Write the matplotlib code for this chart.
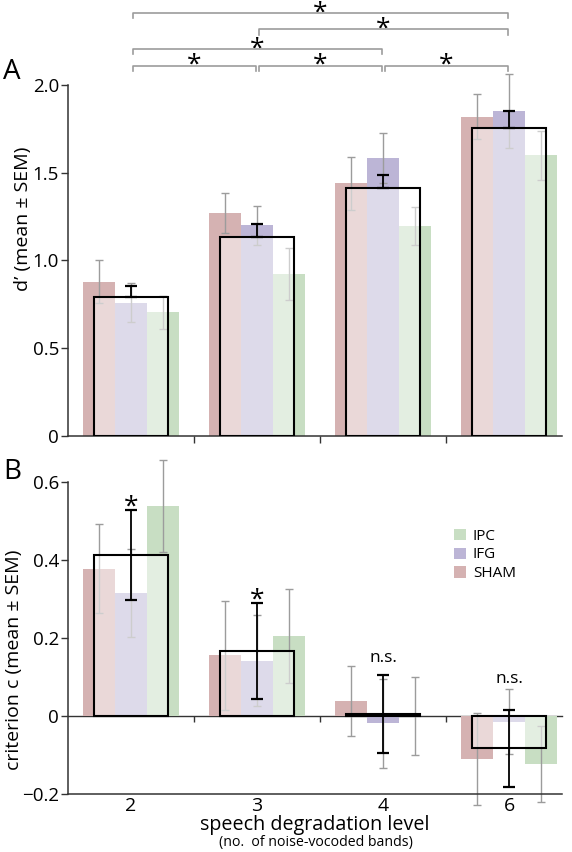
import numpy as np
import matplotlib

matplotlib.use("Agg")
import matplotlib.pyplot as plt
from matplotlib.patches import Patch
from matplotlib.textpath import TextPath
from matplotlib.font_manager import FontProperties

plt.rcParams["font.family"] = ["Open Sans", "DejaVu Sans"]

# d' (mean +- SEM) per degradation level
levels = ["2", "3", "4", "6"]
dp_sham = [0.88, 1.27, 1.44, 1.82]
dp_sham_err = [0.12, 0.115, 0.15, 0.13]
dp_ifg = [0.76, 1.20, 1.585, 1.85]
dp_ifg_err = [0.11, 0.11, 0.143, 0.21]
dp_ipc = [0.705, 0.925, 1.195, 1.60]
dp_ipc_err = [0.095, 0.148, 0.107, 0.14]
dp_mean = [0.79, 1.134, 1.41, 1.757]
dp_mean_err = [0.065, 0.074, 0.077, 0.095]

# criterion c (mean +- SEM)
c_sham = [0.378, 0.156, 0.039, -0.11]
c_sham_err = [0.114, 0.14, 0.09, 0.117]
c_ifg = [0.316, 0.142, -0.019, -0.015]
c_ifg_err = [0.113, 0.117, 0.115, 0.083]
c_ipc = [0.538, 0.205, 0.0, -0.123]
c_ipc_err = [0.118, 0.12, 0.10, 0.098]
c_mean = [0.412, 0.167, 0.006, -0.083]
c_mean_err = [0.115, 0.123, 0.10, 0.099]

# significant pairwise level differences for d' (index pairs) and bracket rows
sig_pairs = [(0, 1), (1, 2), (2, 3), (0, 2), (1, 3), (0, 3)]
sig_rows = [2.11, 2.11, 2.11, 2.205, 2.317, 2.409]
# labels over the mean criterion per level (glyph centre heights)
c_marks = ["*", "*", "n.s.", "n.s."]
c_mark_y = [0.556, 0.318, 0.149, 0.097]

COL = {"SHAM": "#d5b2b2", "IFG": "#bcb5d6", "IPC": "#c8dec3"}
GRAY = "#9c9c9c"
AX = "#333333"
FP = FontProperties(family=["Open Sans", "DejaVu Sans"])

x = np.arange(len(levels)) + 0.5
bw = 0.254
box_w = 0.59

fig = plt.figure(figsize=(5.72, 8.52), dpi=100)
axA = fig.add_axes([0.1189, 0.4883, 0.8636, 0.412])
axB = fig.add_axes([0.1189, 0.0681, 0.8636, 0.3662])


def centred(ax, xc, yc, s, fs, dy_pts=0.0):
    # put the visible glyphs of s centred on (xc, yc) plus dy_pts
    ext = TextPath((0, 0), s, size=fs, prop=FP).get_extents()
    mid = (ext.y0 + ext.y1) / 2
    ax.annotate(s, xy=(xc, yc), xytext=(0, dy_pts - mid), textcoords="offset points",
                ha="center", va="baseline", fontsize=fs, annotation_clip=False)


def draw(ax, sham, sham_e, ifg, ifg_e, ipc, ipc_e, mean, mean_e, upper_only):
    groups = [(sham, sham_e, "SHAM", -bw), (ifg, ifg_e, "IFG", 0.0), (ipc, ipc_e, "IPC", bw)]
    for vals, errs, name, off in groups:
        ax.bar(x + off, vals, width=bw, color=COL[name], zorder=1, linewidth=0)
        ax.errorbar(x + off, vals, yerr=errs, fmt="none", ecolor=GRAY,
                    elinewidth=1.0, capsize=3.2, capthick=1.0, zorder=2, clip_on=False)
    ax.bar(x, mean, width=box_w, facecolor=(1, 1, 1, 0.5), edgecolor="black",
           linewidth=1.5, zorder=3)
    if upper_only:
        yerr = [np.zeros(len(mean)), mean_e]
    else:
        yerr = mean_e
    ax.errorbar(x, mean, yerr=yerr, fmt="none", ecolor="black", elinewidth=1.3,
                capsize=4.5, capthick=1.6, zorder=4, clip_on=False)


draw(axA, dp_sham, dp_sham_err, dp_ifg, dp_ifg_err, dp_ipc, dp_ipc_err,
     dp_mean, dp_mean_err, True)
draw(axB, c_sham, c_sham_err, c_ifg, c_ifg_err, c_ipc, c_ipc_err,
     c_mean, c_mean_err, False)

for ax in (axA, axB):
    ax.set_xlim(0, 3.92)
    for s in ("top", "right"):
        ax.spines[s].set_visible(False)
    for s in ("left", "bottom"):
        ax.spines[s].set_color(AX)
        ax.spines[s].set_linewidth(1.1)
    ax.tick_params(axis="y", direction="out", length=5, width=1, color=AX,
                   labelsize=13.5, pad=1.5)

# panel A
axA.set_ylim(0, 2.0)
axA.set_yticks([0, 0.5, 1.0, 1.5, 2.0])
axA.set_yticklabels(["0", "0.5", "1.0", "1.5", "2.0"])
axA.set_xticks([1, 2, 3])
axA.set_xticklabels([])
axA.tick_params(axis="x", direction="out", length=5, width=1, color=AX)
axA.set_ylabel("d’ (mean ± SEM)", fontsize=14)
axA.yaxis.set_label_coords(-0.073, 0.62)

drop = 0.03
for (i, j), yb in zip(sig_pairs, sig_rows):
    x0, x1 = x[i] + 0.012, x[j] - 0.012
    axA.plot([x0, x0, x1, x1], [yb - drop, yb, yb, yb - drop], color=GRAY,
             lw=1.2, clip_on=False, zorder=5)
    centred(axA, (x[i] + x[j]) / 2, yb, "*", 19, dy_pts=5.6)

# panel B
axB.set_ylim(-0.2, 0.6)
axB.set_yticks([-0.2, 0, 0.2, 0.4, 0.6])
axB.set_yticklabels(["−0.2", "0", "0.2", "0.4", "0.6"])
axB.set_xticks(x)
axB.set_xticklabels(levels, fontsize=14)
axB.tick_params(axis="x", length=0, pad=2.5)
axB.set_ylabel("criterion c (mean ± SEM)", fontsize=14)
axB.yaxis.set_label_coords(-0.092, 0.43)
axB.set_xlabel("speech degradation level", fontsize=14.2, labelpad=-0.5)
fig.text(0.5523, 0.0112, "(no.  of noise-vocoded bands)", ha="center",
         va="center", fontsize=10.2)

zero = axB.secondary_xaxis(0.25)
zero.spines["bottom"].set_color(AX)
zero.spines["bottom"].set_linewidth(1.0)
zero.set_xticks([1, 2, 3])
zero.set_xticklabels([])
zero.tick_params(axis="x", direction="out", length=4, width=1, color=AX)

for xi, lab, yy in zip(x, c_marks, c_mark_y):
    centred(axB, xi, yy, lab, 19 if lab == "*" else 12.5)

handles = [Patch(facecolor=COL[k], edgecolor="none") for k in ("IPC", "IFG", "SHAM")]
axB.legend(handles, ["IPC", "IFG", "SHAM"], loc="upper left",
           bbox_to_anchor=(0.77, 0.87), frameon=False, fontsize=11,
           handlelength=0.75, handleheight=0.75, handletextpad=0.45,
           labelspacing=0.25, borderaxespad=0)

fig.text(0.021, 0.915, "A", fontsize=20, ha="center", va="center")
fig.text(0.021, 0.446, "B", fontsize=20, ha="center", va="center")

fig.savefig("out.png", dpi=100)
